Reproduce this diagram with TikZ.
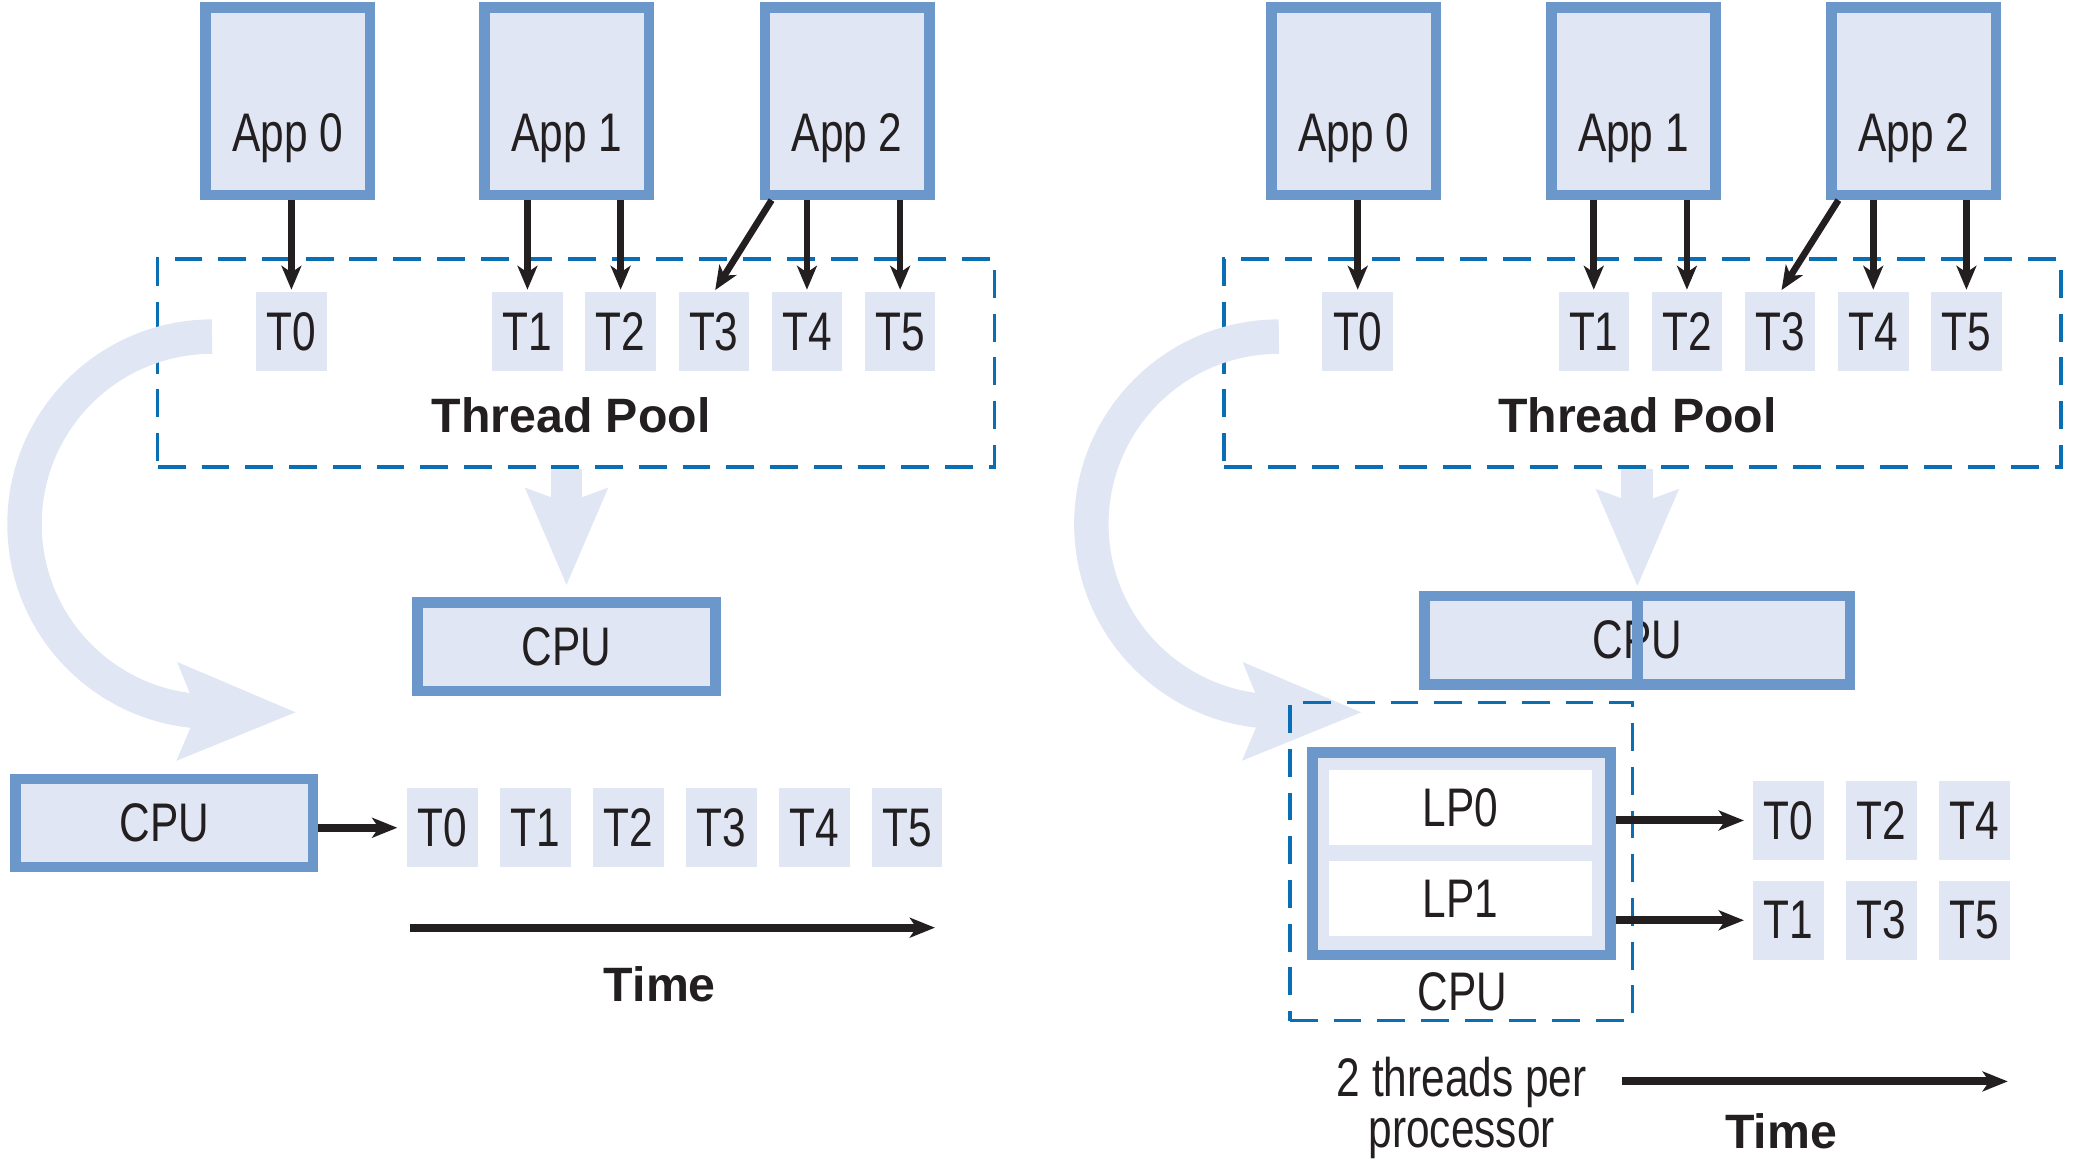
\documentclass[tikz,border=0pt]{standalone}
\usepackage{fontspec}
\setmainfont{Liberation Sans}
\newfontfamily\narrowfont[FakeStretch=0.78]{Liberation Sans}
\usetikzlibrary{positioning, arrows.meta}

\definecolor{boxblue}{HTML}{6B97CB}
\definecolor{boxfill}{HTML}{E0E6F4}
\definecolor{dashblue}{HTML}{0A6EB4}
\definecolor{inkblack}{HTML}{231F20}

\begin{document}
\begin{tikzpicture}[x=0.5pt, y=-0.5pt,
    every node/.style={font=\narrowfont\fontsize{20.5}{19}\selectfont, text=inkblack},
    app/.style={rectangle, draw=boxblue, fill=boxfill, line width=4pt, minimum width=62pt, minimum height=70.75pt, text height=37.8pt, text depth=0pt},
    cpubox/.style={rectangle, draw=boxblue, fill=boxfill, line width=4pt, minimum width=112.4pt, minimum height=33.3pt},
    thread/.style={rectangle, fill=boxfill, minimum width=26.6pt, minimum height=29.7pt, inner sep=0pt, outer sep=0pt},
    pool/.style={rectangle, draw=dashblue, line width=1.25pt, dash pattern=on 10.5pt off 6pt},
    lp/.style={rectangle, fill=white, minimum width=99.5pt, minimum height=28.3pt},
    bold/.style={font=\bfseries\fontsize{18.2}{20}\selectfont},
    spawn/.style={draw=inkblack, line width=2.5pt, shorten >=1pt, -{Stealth[length=9pt, width=7.5pt, inset=2.5pt]}},
    feed/.style={draw=inkblack, line width=3pt, -{Stealth[length=9.5pt, width=7.5pt, inset=2.5pt]}},
    fatarrow/.style={draw=boxfill, line width=12pt, -{Stealth[length=36pt, width=29.5pt, inset=4.75pt]}},
    looparrow/.style={draw=boxfill, line width=13pt, -{Stealth[length=44pt, width=35pt, inset=6.5pt]}}
  ]
  \useasboundingbox (0,0) rectangle (1568,877);

  % Sinistra: applicazioni e pool di thread
  \node[pool, minimum width=315.7pt, minimum height=78.4pt] (poolL) at (434.8,273.9) {};
  \node[app] (appL0) at (217.2,76.25) {App 0};
  \node[app] (appL1) at (427.8,76.25) {App 1};
  \node[app] (appL2) at (639.2,76.25) {App 2};

  \node[thread] (tL0) at (219.9,250.3) {T0};
  \node[thread] (tL1) at (398,250.3) {T1};
  \node[thread, right=8.55pt of tL1] (tL2) {T2};
  \node[thread, right=8.55pt of tL2] (tL3) {T3};
  \node[thread, right=8.55pt of tL3] (tL4) {T4};
  \node[thread, right=8.55pt of tL4] (tL5) {T5};
  \node[bold] (poolTextL) at (430.9,313.3) {Thread Pool};

  \draw[spawn] (appL0.south -| tL0) -- (tL0.north);
  \draw[spawn] (appL1.south -| tL1) -- (tL1.north);
  \draw[spawn] (appL1.south -| tL2) -- (tL2.north);
  \draw[spawn] ([xshift=4.5pt]appL2.south west) -- (tL3.north);
  \draw[spawn] (appL2.south -| tL4) -- (tL4.north);
  \draw[spawn] (appL2.south -| tL5) -- (tL5.north);

  % Sinistra: una sola CPU
  \node[cpubox] (cpuL) at (427.5,488) {CPU};
  \draw[fatarrow] (cpuL.north |- poolL.south) -- ([yshift=4.3pt]cpuL.north);

  \coordinate (loopStartL) at (160,254);
  \coordinate (loopEndL) at (224,537.5);
  \draw[looparrow] (loopStartL) arc[start angle=270, end angle=90, radius=141.5] -- (loopEndL);

  \node[cpubox] (cpuRunL) at (123.9,621) {CPU};
  \node[thread] (sL0) at (334,624.6) {T0};
  \node[thread, right=8.45pt of sL0] (sL1) {T1};
  \node[thread, right=8.45pt of sL1] (sL2) {T2};
  \node[thread, right=8.45pt of sL2] (sL3) {T3};
  \node[thread, right=8.45pt of sL3] (sL4) {T4};
  \node[thread, right=8.45pt of sL4] (sL5) {T5};
  \draw[feed] (cpuRunL.east |- sL0.west) -- ([xshift=-3.8pt]sL0.west);

  % Asse del tempo
  \coordinate (timeStartL) at (309.2,700);
  \coordinate (timeEndL) at (705.5,700);
  \draw[feed] (timeStartL) -- (timeEndL);
  \node[bold] (timeL) at (497.9,742.6) {Time};

  % Destra: applicazioni e pool di thread
  \node[pool, minimum width=315.7pt, minimum height=78.4pt] (poolR) at (1239.4,273.9) {};
  \node[app] (appR0) at (1021.4,76.25) {App 0};
  \node[app] (appR1) at (1232.5,76.25) {App 1};
  \node[app] (appR2) at (1444.2,76.25) {App 2};

  \node[thread] (tR0) at (1024.5,250.3) {T0};
  \node[thread] (tR1) at (1202.6,250.3) {T1};
  \node[thread, right=8.55pt of tR1] (tR2) {T2};
  \node[thread, right=8.55pt of tR2] (tR3) {T3};
  \node[thread, right=8.55pt of tR3] (tR4) {T4};
  \node[thread, right=8.55pt of tR4] (tR5) {T5};
  \node[bold] (poolTextR) at (1235.6,313.3) {Thread Pool};

  \draw[spawn] (appR0.south -| tR0) -- (tR0.north);
  \draw[spawn] (appR1.south -| tR1) -- (tR1.north);
  \draw[spawn] (appR1.south -| tR2) -- (tR2.north);
  \draw[spawn] ([xshift=4.5pt]appR2.south west) -- (tR3.north);
  \draw[spawn] (appR2.south -| tR4) -- (tR4.north);
  \draw[spawn] (appR2.south -| tR5) -- (tR5.north);

  % Destra: CPU con due processori logici
  \node[cpubox, minimum width=160.5pt] (cpuR) at (1235.5,483) {CPU};
  \draw[boxblue, line width=4pt] (cpuR.north) -- (cpuR.south);
  \draw[fatarrow] (cpuR.north |- poolR.south) -- ([yshift=1.35pt]cpuR.north);

  \coordinate (loopStartR) at (965,254);
  \coordinate (loopEndR) at (1028,537.5);
  \draw[looparrow] (loopStartR) arc[start angle=270, end angle=90, radius=141.5] -- (loopEndR);

  \node[pool, minimum width=129.2pt, minimum height=120.1pt] (coreBox) at (1102.5,650.1) {};
  \node[cpubox, minimum height=76.3pt] (lpBox) at (1102.6,644.3) {};
  \node[lp] (lp0) at (1102,609.3) {LP0};
  \node[lp] (lp1) at (1102,678.2) {LP1};
  \node (cpuTextR) at (1103.7,748.4) {CPU};

  \node[thread] (rT0) at (1349.5,619.1) {T0};
  \node[thread, right=8.5pt of rT0] (rT2) {T2};
  \node[thread, right=8.5pt of rT2] (rT4) {T4};
  \node[thread] (rT1) at (1349.5,694.4) {T1};
  \node[thread, right=8.5pt of rT1] (rT3) {T3};
  \node[thread, right=8.5pt of rT3] (rT5) {T5};

  \draw[feed] (lpBox.east |- rT0.west) -- ([xshift=-3.5pt]rT0.west);
  \draw[feed] (lpBox.east |- rT1.west) -- ([xshift=-3.5pt]rT1.west);

  % Asse del tempo
  \node[align=center] (perCore) at (1103,836) {2 threads per\\processor};
  \coordinate (timeStartR) at (1224,816);
  \coordinate (timeEndR) at (1515,816);
  \draw[feed] (timeStartR) -- (timeEndR);
  \node[bold] (timeR) at (1344,853.5) {Time};
\end{tikzpicture}
\end{document}
